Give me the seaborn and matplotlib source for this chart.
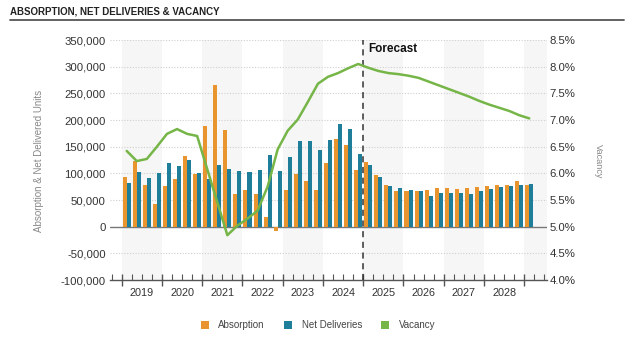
import numpy as np
import pandas as pd
import matplotlib
matplotlib.use("Agg")
import matplotlib.pyplot as plt
from matplotlib.lines import Line2D
from matplotlib.ticker import FuncFormatter, FixedLocator
import seaborn as sns

# ---- data -----------------------------------------------------------------
year_labels = ["2019", "2020", "2021", "2022", "2023",
               "2024", "2025", "2026", "2027", "2028"]
quarter_labels = [f"{y} Q{q}" for y in year_labels for q in (1, 2, 3, 4)] + ["2029 Q1"]
forecast_start = "2025 Q1"

absorption = [
    92500, 123000, 78000, 42000,      # 2019
    76000, 89000, 133000, 99000,      # 2020
    189000, 265000, 182000, 61000,    # 2021
    69000, 62000, 19000, -7500,       # 2022
    69000, 99000, 86000, 69000,       # 2023
    120000, 164000, 154000, 106000,   # 2024
    122000, 97000, 79000, 67000,      # 2025
    67000, 66000, 69000, 72000,       # 2026
    73000, 71000, 72000, 74000,       # 2027
    77000, 78000, 79000, 85000,       # 2028
    79000,                            # 2029
]
net_deliveries = [
    82500, 102000, 92000, 100000,
    119000, 113000, 125000, 100000,
    89000, 115000, 109000, 104000,
    102000, 107000, 134000, 104000,
    131000, 160000, 160000, 144000,
    162000, 192000, 183000, 136000,
    116000, 93000, 76000, 72500,
    69000, 67000, 58000, 64000,
    64000, 64000, 61000, 66000,
    71000, 75000, 76000, 79000,
    80000,
]
vacancy = [
    6.42, 6.23, 6.27, 6.50,
    6.74, 6.83, 6.74, 6.70,
    6.08, 5.46, 4.84, 5.02,
    5.15, 5.30, 5.75, 6.45,
    6.80, 7.01, 7.34, 7.68,
    7.81, 7.88, 7.97, 8.05,
    7.98, 7.92, 7.88, 7.86,
    7.83, 7.79, 7.72, 7.65,
    7.58, 7.51, 7.44, 7.36,
    7.29, 7.23, 7.17, 7.09,
    7.03,
]

series_names = ["Absorption", "Net Deliveries"]
ORANGE = "#E8952F"
TEAL = "#1F7E9A"
GREEN = "#76B547"

# ---- style ------------------------------------------------------------------
sns.set_style("white")
plt.rcParams["font.family"] = ["Liberation Sans", "DejaVu Sans"]

fig = plt.figure(figsize=(6.34, 3.46), dpi=100)
ax = fig.add_axes([110 / 634, 1 - 280 / 346, 437 / 634, 240 / 346])

df = pd.DataFrame({
    "quarter": quarter_labels * 2,
    "series": [series_names[0]] * len(absorption) + [series_names[1]] * len(net_deliveries),
    "units": absorption + net_deliveries,
})

pos = {q: i for i, q in enumerate(quarter_labels)}
n = len(quarter_labels)

# alternating year shading (odd years)
for k in range(0, n // 4 + 1):
    if k % 2 == 0:
        ax.axvspan(-0.5 + 4 * k, 3.5 + 4 * k, color="#F6F6F6", zorder=0, lw=0)

sns.barplot(data=df, x="quarter", y="units", hue="series", order=quarter_labels,
            hue_order=series_names, palette=[ORANGE, TEAL], saturation=1,
            width=0.8, gap=0, linewidth=0, legend=False, ax=ax, zorder=2)

ax.set_xlim(-1.66, n + 0.76)
ax.set_ylim(-100000, 350000)
yt = np.arange(-100000, 350001, 50000)
ax.set_yticks(yt)
ax.yaxis.set_major_formatter(FuncFormatter(lambda v, p: f"{int(v):,}"))
for v in yt:
    if v == 0:
        ax.axhline(v, color="#777777", lw=1.0, zorder=1.5)
    elif v > -100000:
        ax.axhline(v, color="#CFCFCF", lw=0.8, ls=(0, (1, 1.5)), zorder=1)

ax.set_xlabel("")
ax.set_ylabel("")
for s in ("top", "left", "right"):
    ax.spines[s].set_visible(False)
ax.spines["bottom"].set_color("#555555")
ax.spines["bottom"].set_linewidth(1.0)

# year boundaries as major ticks, quarter boundaries as minor ticks
ax.xaxis.set_major_locator(FixedLocator([-0.5 + 4 * k for k in range(len(year_labels) + 1)]))
ax.xaxis.set_minor_locator(FixedLocator([b - 0.5 for b in range(-1, n + 2) if (b % 4) != 0]))
ax.set_xticklabels([])
ax.tick_params(axis="x", which="major", direction="inout", length=9, width=1.0, color="#555555", bottom=True)
ax.tick_params(axis="x", which="minor", direction="in", length=4, width=0.8, color="#555555", bottom=True)
ax.tick_params(axis="y", length=0, pad=3, labelsize=8.2, labelcolor="#333333")

for k, yl in enumerate(year_labels):
    ax.text(1.5 + 4 * k, -0.035, yl, transform=ax.get_xaxis_transform(),
            ha="center", va="top", fontsize=7.8, color="#333333")

# forecast divider
fx = pos[forecast_start] - 0.5
ax.axvline(fx, color="#333333", lw=1.1, ls=(0, (4, 3)), zorder=3)
ax.annotate("Forecast", xy=(fx, 1), xycoords=("data", "axes fraction"),
            xytext=(5, -3), textcoords="offset pixels", ha="left", va="top",
            fontsize=8.5, fontweight="bold", color="#111111")

# vacancy on the right axis
ax2 = ax.twinx()
sns.lineplot(x=[pos[q] for q in quarter_labels], y=vacancy, color=GREEN, lw=1.8,
             ax=ax2, legend=False, zorder=4)
ax2.set_ylim(4.0, 8.5)
ax2.set_yticks(np.arange(4.0, 8.51, 0.5))
ax2.yaxis.set_major_formatter(FuncFormatter(lambda v, p: f"{v:.1f}%"))
ax2.tick_params(axis="y", length=0, pad=2, labelsize=8.2, labelcolor="#333333")
for s in ("top", "left", "right", "bottom"):
    ax2.spines[s].set_visible(False)
ax2.set_ylabel("")
ax2.set_xlim(ax.get_xlim())

# axis titles
fig.text(39 / 634, 1 - 161 / 346, "Absorption & Net Delivered Units", rotation=90,
         ha="center", va="center", fontsize=7, color="#888888")
fig.text(598 / 634, 1 - 161 / 346, "Vacancy", rotation=270,
         ha="center", va="center", fontsize=6.6, color="#888888")

# header
fig.text(10 / 634, 1 - 11 / 346, "ABSORPTION, NET DELIVERIES & VACANCY",
         ha="left", va="center", fontsize=7.0, fontweight="bold", color="#222222")
fig.add_artist(Line2D([10 / 634, 624 / 634], [1 - 19.5 / 346, 1 - 19.5 / 346],
                      transform=fig.transFigure, color="#555555", lw=1.3))

# legend
handles = [Line2D([], [], marker="s", ls="none", markersize=5.6, color=c, markeredgewidth=0)
           for c in (ORANGE, TEAL, GREEN)]
fig.legend(handles, ["Absorption", "Net Deliveries", "Vacancy"], loc="center",
           bbox_to_anchor=(318 / 634, 1 - 325 / 346), ncol=3, frameon=False,
           fontsize=7, handlelength=0.8, handletextpad=1.0, columnspacing=2.0,
           labelcolor="#444444")

fig.savefig("out.png", dpi=100)
